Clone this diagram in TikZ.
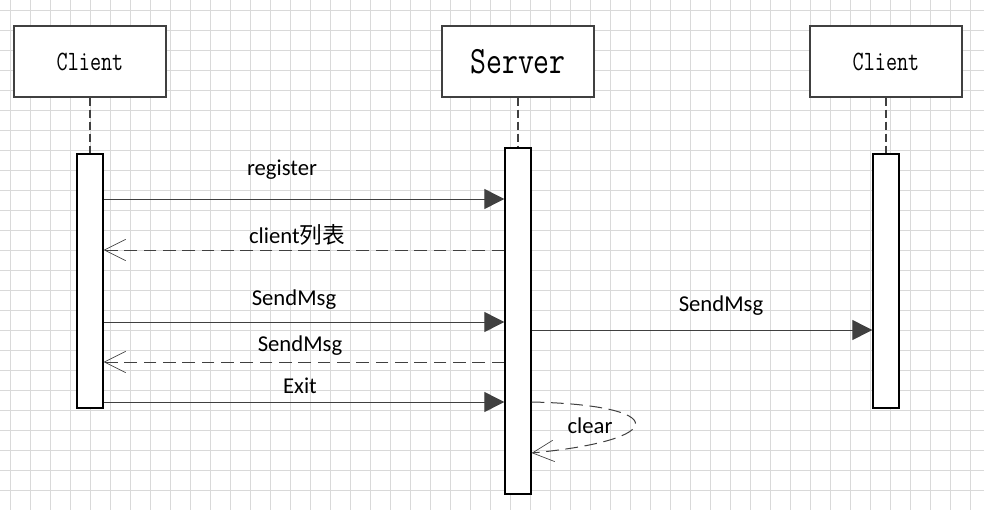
\documentclass[tikz,border=0pt]{standalone}
\usepackage{fontspec}
\setmainfont{Carlito}
\newfontfamily\cjk{Noto Sans CJK SC}
\usetikzlibrary{positioning,calc,arrows.meta}

\definecolor{gridgray}{HTML}{D9D9D9}
\definecolor{inkgray}{HTML}{404040}

\tikzset{
    gridline/.style={gridgray, line width=0.6pt},
    objbox/.style={draw=inkgray, line width=1.1pt, fill=white, minimum width=114pt, minimum height=53.25pt, inner sep=0pt},
    actbar/.style={draw=black, line width=1pt, fill=white, minimum width=19.5pt, inner sep=0pt},
    lifeline/.style={inkgray, line width=1pt, dash pattern=on 6pt off 3pt},
    callmsg/.style={inkgray, line width=0.75pt, -{Triangle[length=15pt, width=15pt]}},
    retmsg/.style={inkgray, line width=0.75pt, dash pattern=on 9.5pt off 5pt, -{Straight Barb[length=16pt, width=16pt, line width=0.5pt]}},
    msglabel/.style={font=\fontsize{17pt}{19pt}\selectfont, inner sep=0pt}
}

\begin{document}
\begin{tikzpicture}[x=0.75pt, y=-0.75pt]
    \useasboundingbox (0,0) rectangle (984,510);
    \fill[white] (0,0) rectangle (984,510);
    % background grid
    \foreach \gx in {10,30,...,970} \draw[gridline] (\gx,0) -- (\gx,510);
    \foreach \gy in {10,30,...,490} \draw[gridline] (0,\gy) -- (984,\gy);

    % objects
    \node[objbox] (cliA) at (90,61.5) {\scalebox{0.77}[1]{\ttfamily\fontsize{21pt}{24pt}\selectfont Client}};
    \node[objbox] (srv) at (518,61.5) {\scalebox{0.8}[1]{\ttfamily\fontsize{29pt}{32pt}\selectfont Server}};
    \node[objbox] (cliB) at (886,61.5) {\scalebox{0.77}[1]{\ttfamily\fontsize{21pt}{24pt}\selectfont Client}};

    % activation bars
    \node[actbar, minimum height=190.5pt] (barA) at (90,281) {};
    \node[actbar, minimum height=259.5pt] (barS) at (518,321) {};
    \node[actbar, minimum height=190.5pt] (barB) at (886,281) {};

    \draw[lifeline] (cliA.south) -- (barA.north);
    \draw[lifeline] (srv.south) -- (barS.north);
    \draw[lifeline] (cliB.south) -- (barB.north);

    % message heights
    \coordinate (m1) at (0,199);
    \coordinate (m2) at (0,250);
    \coordinate (m3) at (0,322);
    \coordinate (m4) at (0,330);
    \coordinate (m5) at (0,362);
    \coordinate (m6) at (0,402);
    \coordinate (m7) at (0,453);

    \draw[callmsg] (barA.east |- m1) -- (barS.west |- m1);
    \draw[retmsg] (barS.west |- m2) -- (barA.east |- m2);
    \draw[callmsg] (barA.east |- m3) -- (barS.west |- m3);
    \draw[callmsg] (barS.east |- m4) -- (barB.west |- m4);
    \draw[retmsg] (barS.west |- m5) -- (barA.east |- m5);
    \draw[callmsg] (barA.east |- m6) -- (barS.west |- m6);
    \draw[retmsg] (barS.east |- m6) .. controls (670,405) and (670,440) .. (barS.east |- m7);

    % labels
    \node[msglabel] (lreg) at (282,170) {register};
    \node[msglabel] (llist) at (297,235) {client{\cjk 列表}};
    \node[msglabel] (lsend) at (294,300) {SendMsg};
    \node[msglabel] (lfwd) at (721,306) {SendMsg};
    \node[msglabel] (lback) at (300,346) {SendMsg};
    \node[msglabel] (lexit) at (300,386) {Exit};
    \node[msglabel] (lclear) at (590,426) {clear};
\end{tikzpicture}
\end{document}
